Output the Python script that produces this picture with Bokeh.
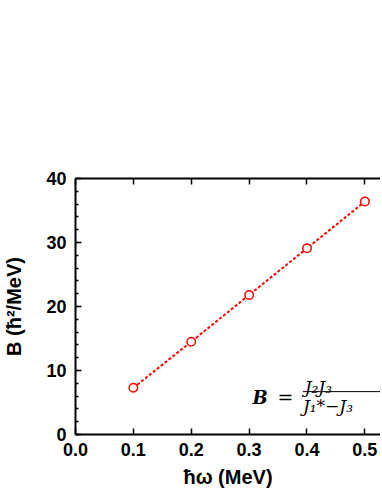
from bokeh.plotting import figure
from bokeh.models import FixedTicker, NumeralTickFormatter, LinearAxis, CustomJSTickFormatter, Label, Range1d, Title
from bokeh.embed import file_html
from bokeh.resources import INLINE

# data
hw = [0.1, 0.2, 0.3, 0.4, 0.5]
B = [7.3, 14.5, 21.8, 29.1, 36.4]
x_ticks = [0.0, 0.1, 0.2, 0.3, 0.4, 0.5]
y_ticks = [0, 10, 20, 30, 40]

p = figure(frame_width=305, frame_height=256, output_backend="svg", toolbar_location=None,
           x_range=Range1d(0, 0.527), y_range=Range1d(0, 40),
           x_axis_location=None, y_axis_location=None,
           min_border_left=69, min_border_right=0, min_border_top=178, min_border_bottom=0)
p.outline_line_color = None
p.xgrid.visible = False
p.ygrid.visible = False
p.background_fill_color = "white"

FONT = "Liberation Sans"

def style(ax):
    ax.axis_line_width = 2
    ax.major_tick_line_width = 1.5
    ax.minor_tick_line_width = 1.5
    ax.major_tick_in = 6
    ax.major_tick_out = 0
    ax.minor_tick_in = 3
    ax.minor_tick_out = 0
    ax.major_label_text_font = FONT
    ax.major_label_text_font_style = "bold"
    ax.major_label_text_font_size = "18px"
    ax.major_label_text_color = "black"
    ax.axis_label_text_font = FONT
    ax.axis_label_text_font_style = "bold"
    ax.axis_label_text_font_size = "20px"
    ax.axis_label_text_color = "black"

xb = LinearAxis(ticker=FixedTicker(ticks=x_ticks), formatter=NumeralTickFormatter(format="0.0"))
style(xb)
xb.major_label_standoff = 8
xb.minor_tick_line_color = None
p.add_layout(xb, "below")

xt = LinearAxis(ticker=FixedTicker(ticks=x_ticks), formatter=CustomJSTickFormatter(code="return ''"))
style(xt)
xt.minor_tick_line_color = None
p.add_layout(xt, "above")

yl = LinearAxis(ticker=FixedTicker(ticks=y_ticks, minor_ticks=[2*i for i in range(21)]))
style(yl)
yl.major_label_standoff = 9
yl.axis_label = "B (ħ²/MeV)"
yl.axis_label_standoff = 18
p.add_layout(yl, "left")

# x axis title, centred under the (wider) original frame
p.add_layout(Title(text="ħω (MeV)", align="center", offset=25, standoff=11,
                   text_font=FONT, text_font_style="bold", text_font_size="20px",
                   text_color="black"), "below")

p.line(hw, B, line_color="#ff0000", line_width=2, line_dash="3 2")
p.scatter(hw, B, marker="circle", size=8.5, fill_color="white", line_color="#ff0000", line_width=1.5)

# formula annotation
SERIF = "DejaVu Serif"
p.add_layout(Label(x=0.306, y=5.8, text="B", text_font=SERIF, text_font_style="bold italic",
                   text_font_size="18px", text_color="black", text_baseline="alphabetic"))
p.add_layout(Label(x=0.349, y=5.8, text="=", text_font=SERIF,
                   text_font_size="19px", text_color="black", text_baseline="alphabetic"))
p.add_layout(Label(x=0.396, y=7.5, text="J₂J₃", text_font=SERIF, text_font_style="italic",
                   text_font_size="17px", text_color="black", text_baseline="alphabetic"))
p.add_layout(Label(x=0.393, y=4.4, text="J₁*−J₃", text_font=SERIF, text_font_style="italic",
                   text_font_size="17px", text_color="black", text_baseline="alphabetic"))
p.segment(x0=[0.393], y0=[6.7], x1=[0.6], y1=[6.7], line_color="black", line_width=1)

open("out.html", "w").write(file_html(p, INLINE))
